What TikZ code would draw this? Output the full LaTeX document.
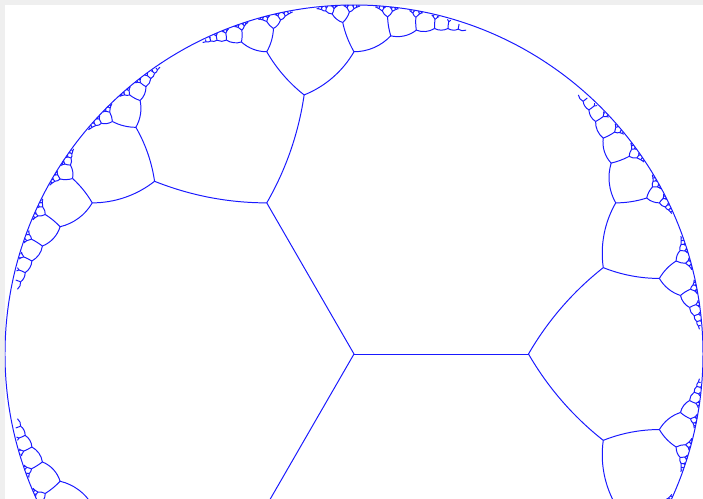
\documentclass[tikz,border=0pt]{standalone}
\usepackage{tikz}

\definecolor{treeblue}{RGB}{25,25,255}
\definecolor{framegray}{RGB}{239,239,239}

\def\Rd{8.725}
\def\sq{0.8660254037844386}

% geodesic of the unit disk from (#1,#2) to (#3,#4), drawn as a Bezier arc
\newcommand\geoedge[4]{%
  \edef\gdet{\fpeval{(#1)*(#4)-(#2)*(#3)}}%
  \edef\pax{\fpeval{round(\Rd*(#1),4)}}\edef\pay{\fpeval{round(\Rd*(#2),4)}}%
  \edef\pdx{\fpeval{round(\Rd*(#3),4)}}\edef\pdy{\fpeval{round(\Rd*(#4),4)}}%
  \ifnum\fpeval{abs(\gdet)<0.000000001}=1
    \draw[geod] (\pax,\pay) -- (\pdx,\pdy);
  \else
    \edef\ga{\fpeval{(1+(#1)^2+(#2)^2)/2}}%
    \edef\gb{\fpeval{(1+(#3)^2+(#4)^2)/2}}%
    \edef\gcx{\fpeval{((\ga)*(#4)-(\gb)*(#2))/(\gdet)}}%
    \edef\gcy{\fpeval{((#1)*(\gb)-(#3)*(\ga))/(\gdet)}}%
    \edef\gux{\fpeval{(#1)-(\gcx)}}\edef\guy{\fpeval{(#2)-(\gcy)}}%
    \edef\gvx{\fpeval{(#3)-(\gcx)}}\edef\gvy{\fpeval{(#4)-(\gcy)}}%
    \edef\gcr{\fpeval{(\gux)*(\gvy)-(\guy)*(\gvx)}}%
    \edef\gdt{\fpeval{(\gux)*(\gvx)+(\guy)*(\gvy)}}%
    \edef\gh{\fpeval{sign(\gcr)*4/3*tan(atan(abs(\gcr),\gdt)/4)}}%
    \edef\pbx{\fpeval{round(\Rd*((#1)-(\gh)*(\guy)),4)}}%
    \edef\pby{\fpeval{round(\Rd*((#2)+(\gh)*(\gux)),4)}}%
    \edef\pcx{\fpeval{round(\Rd*((#3)+(\gh)*(\gvy)),4)}}%
    \edef\pcy{\fpeval{round(\Rd*((#4)-(\gh)*(\gvx)),4)}}%
    \draw[geod] (\pax,\pay) .. controls (\pbx,\pby) and (\pcx,\pcy) .. (\pdx,\pdy);
  \fi}

% #1 levels left, Farey edge P=(#2,#3), Q=(#4,#5), parent vertex (#6,#7)
\newcommand\fareystep[7]{%
  \ifnum#1>0
  \begingroup
    \edef\fx{\the\numexpr#2+#4\relax}\edef\fy{\the\numexpr#3+#5\relax}%
    \edef\zdd{\fpeval{((#3)/2+(#5))^2+((#3)*\sq)^2}}%
    \edef\zx{\fpeval{(((#2)/2+(#4))*((#3)/2+(#5))+(#2)*(#3)*\sq*\sq)/(\zdd)}}%
    \edef\zy{\fpeval{abs(\sq*((#2)*(#5)-(#3)*(#4)))/(\zdd)}}%
    \edef\zt{\fpeval{(\zx)-0.5}}%
    \edef\zd{\fpeval{(\zt)^2+((\zy)+\sq)^2}}%
    \edef\zwr{\fpeval{((\zt)^2+(\zy)^2-\sq*\sq)/(\zd)}}%
    \edef\zwi{\fpeval{-2*\sq*(\zt)/(\zd)}}%
    \edef\Wx{\fpeval{(\zwr)/2-(\zwi)*\sq}}\edef\Wy{\fpeval{(\zwr)*\sq+(\zwi)/2}}%
    \geoedge{#6}{#7}{\Wx}{\Wy}%
    \edef\fnext{\noexpand\fareystep{\the\numexpr#1-1\relax}{#2}{#3}{\fx}{\fy}{\Wx}{\Wy}}\fnext
    \edef\fnext{\noexpand\fareystep{\the\numexpr#1-1\relax}{\fx}{\fy}{#4}{#5}{\Wx}{\Wy}}\fnext
  \endgroup
  \fi}

\begin{document}
\begin{tikzpicture}[
    geod/.style={treeblue, line width=0.7pt},
    rim/.style={treeblue, line width=0.7pt}
]
\useasboundingbox (-8.85,-3.625) rectangle (8.725,8.85);
\fill[framegray] (-8.85,-3.625) rectangle (8.725,8.85);
\fill[white] (-8.725,-3.625) rectangle (8.725,8.725);
\clip (-8.725,-3.625) rectangle (8.725,8.725);

\draw[rim] (0,0) circle[radius=\Rd];

\fareystep{9}{1}{0}{0}{-1}{0}{0}
\fareystep{9}{0}{1}{1}{1}{0}{0}
\fareystep{9}{1}{1}{1}{0}{0}{0}

\end{tikzpicture}
\end{document}
